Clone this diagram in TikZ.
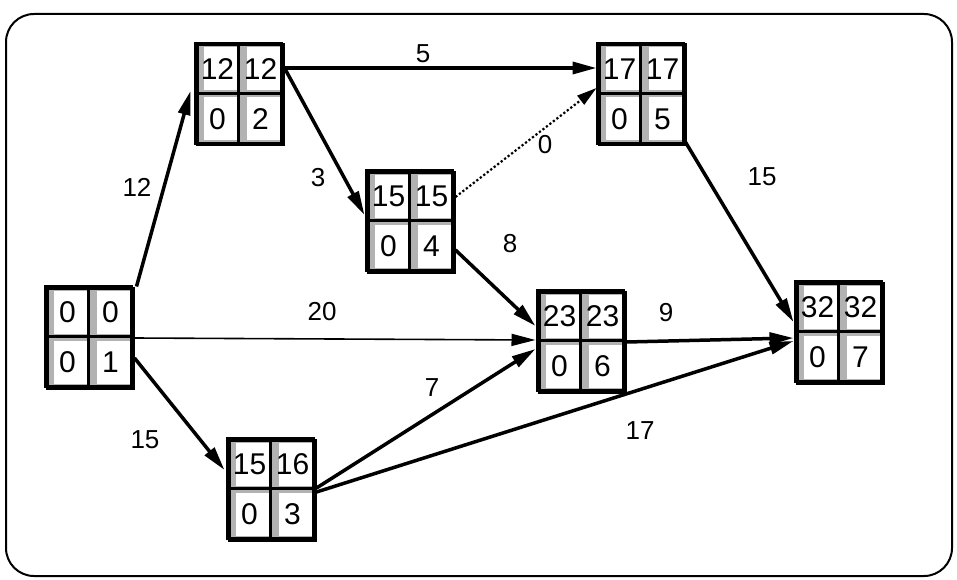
\documentclass[tikz,border=0pt]{standalone}
\usepackage{fontspec}
\setmainfont{Liberation Sans}
\usetikzlibrary{arrows.meta}

\tikzset{
  pbox/.style={rectangle, draw=black, line width=3pt, fill=gray!60,
    minimum width=86pt, minimum height=100pt, inner sep=0pt},
  cellnum/.style={inner sep=0pt, font=\fontsize{30}{30}\selectfont},
  arrlabel/.style={inner sep=0pt, font=\fontsize{26}{26}\selectfont},
  activity/.style={line width=3.5pt, -{Triangle[length=24pt,width=12pt]}},
  thinact/.style={line width=1.6pt, -{Triangle[length=24pt,width=12pt]}},
  dummy/.style={line width=2.2pt, dash pattern=on 2.2pt off 2.2pt,
    -{Triangle[length=20pt,width=11pt]}},
  frame/.style={line width=2pt, rounded corners=28pt}
}

% event box: name, x, y, ES, LS, slack, number
\newcommand\pertnode[7]{%
  \node[pbox] (#1) at (#2,#3) {};
  \begin{scope}[shift={(#1.north west)}]
    \fill[white] (8,4) rectangle (41,47);
    \fill[white] (51,4) rectangle (84,47);
    \fill[white] (8,54) rectangle (41,97);
    \fill[white] (51,54) rectangle (84,97);
    \draw[line width=2.5pt] (43,0) -- (43,100);
    \draw[line width=2.5pt] (0,50) -- (86,50);
    \draw[line width=3pt] (0,0) rectangle (86,100);
    \node[cellnum] (#1a) at (22,26) {#4};
    \node[cellnum] (#1b) at (65,26) {#5};
    \node[cellnum] (#1c) at (22,76) {#6};
    \node[cellnum] (#1d) at (65,76) {#7};
  \end{scope}
}

\begin{document}
\begin{tikzpicture}[x=1pt, y=-1pt]
  \useasboundingbox (0,0) rectangle (957,580);
  \draw[frame] (6,14) rectangle (952,576);

  \pertnode{n1}{90}{338}{0}{0}{0}{1}
  \pertnode{n2}{240}{95}{12}{12}{0}{2}
  \pertnode{n4}{411}{222}{15}{15}{0}{4}
  \pertnode{n5}{642}{95}{17}{17}{0}{5}
  \pertnode{n6}{582}{342}{23}{23}{0}{6}
  \pertnode{n7}{840}{333}{32}{32}{0}{7}
  \pertnode{n3}{272}{490}{15}{16}{0}{3}

  % activities
  \draw[activity] ([xshift=2pt]n1.north east) -- ([yshift=4pt,xshift=-5pt]n2.west);
  \draw[activity] ([yshift=27pt]n2.east) -- ([yshift=27pt,xshift=-1pt]n5.west);
  \draw[activity] ([yshift=27pt]n2.east) -- ([yshift=7pt,xshift=-2pt]n4.west);
  \draw[dummy] ([yshift=25pt]n4.east) -- ([yshift=7pt,xshift=-1pt]n5.west);
  \draw[activity] ([yshift=-28pt]n4.east) -- ([yshift=16pt,xshift=-2pt]n6.west);
  \draw[thinact] (n1.east) -- ([yshift=2pt,xshift=-2pt]n6.west);
  \draw[activity] ([yshift=-20pt]n1.east) -- ([yshift=20pt,xshift=-3pt]n3.west);
  \draw[activity] ([yshift=2pt]n3.east) -- ([yshift=-7pt,xshift=-2pt]n6.west);
  \draw[activity] (n6.east) -- ([yshift=-5pt,xshift=-2pt]n7.west);
  \draw[activity] ([yshift=-2pt]n3.east) -- ([yshift=-8pt,xshift=-2pt]n7.west);
  \draw[activity] ([xshift=-2pt,yshift=6pt]n5.south east) -- ([yshift=11pt,xshift=-2pt]n7.west);

  % durations
  \node[arrlabel] (d12) at (137,187) {12};
  \node[arrlabel] (d25) at (423,54) {5};
  \node[arrlabel] (d24) at (318,178) {3};
  \node[arrlabel] (d45) at (545,145) {0};
  \node[arrlabel] (d57) at (762,177) {15};
  \node[arrlabel] (d46) at (510,244) {8};
  \node[arrlabel] (d16) at (322,312) {20};
  \node[arrlabel] (d67) at (666,313) {9};
  \node[arrlabel] (d36) at (432,388) {7};
  \node[arrlabel] (d13) at (145,440) {15};
  \node[arrlabel] (d37) at (640,431) {17};
\end{tikzpicture}
\end{document}
